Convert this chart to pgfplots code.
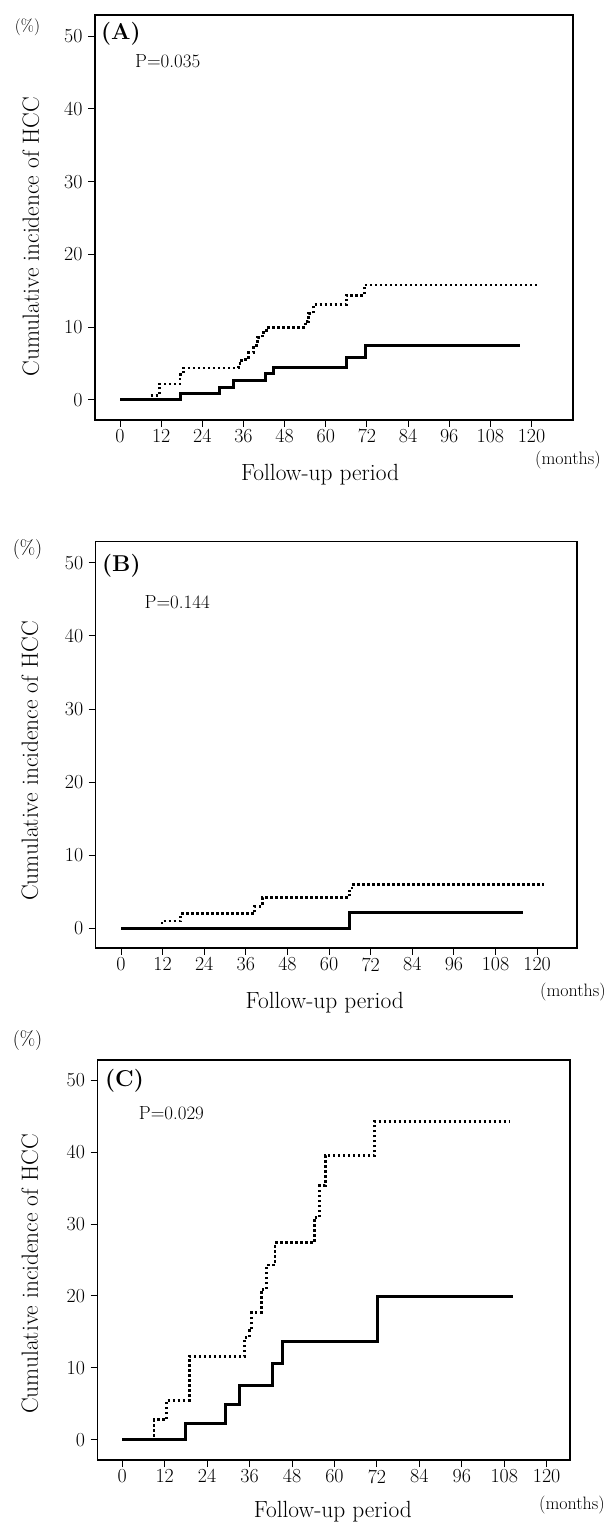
\documentclass[border=0pt]{standalone}
\usepackage{pgfplots}
\pgfplotsset{compat=1.18}
\begin{document}
\begin{tikzpicture}
\useasboundingbox (0,0) rectangle (609bp,1524bp);
\pgfplotsset{
  km/.style={
    scale only axis,
    anchor=south west,
    axis line style={line width=1.2bp},
    xtick={0,12,...,120}, ytick={0,10,...,50},
    tick align=outside, xtick pos=left, ytick pos=left,
    major tick length=7bp,
    tick style={line width=1bp, black},
    /pgf/number format/assume math mode=true,
    ticklabel style={font=\fontsize{20}{22}\selectfont},
    yticklabel style={xshift=-2bp},
    xticklabel style={yshift=1bp},
    clip=false,
  },
  sol/.style={black, line width=3bp, const plot, no marks},
  dot/.style={black, line width=2.8bp, const plot, no marks, dash pattern=on 2.4bp off 2.6bp},
  lx/.style={every axis x label/.style={at={(axis description cs:#1)},anchor=center,font=\fontsize{23.5}{26}\selectfont}},
  ly/.style={every axis y label/.style={at={(axis description cs:#1)},anchor=center,rotate=90,font=\fontsize{23.5}{26}\selectfont}},
}
% ---------------- Panel A
\begin{axis}[km, at={(95bp,1104bp)}, width=478bp, height=405bp,
  xmin=-7.3, xmax=132.1, ymin=-2.75, ymax=52.9,
  xlabel={Follow-up period}, ylabel={Cumulative incidence of HCC},
  lx={0.471,-0.136}, ly={-0.134,0.453}]
\addplot[dot] coordinates {(0,0) (8.8,0.6) (11.5,2.2) (17.5,3.5) (18.5,4.4) (34.5,5.0) (35.5,5.6) (37.5,6.5) (39,7.5) (40.2,8.6) (41.5,9.3) (42.8,10.0) (54,10.8) (55,11.9) (56.4,13.1) (66,14.4) (71.3,15.8) (122,15.8)};
\addplot[sol] coordinates {(0,0) (17.7,0.85) (28.9,1.75) (33,2.65) (42.4,3.6) (44.7,4.45) (66,5.85) (71.7,7.5) (116.5,7.5)};
\end{axis}
\node[font=\fontsize{17}{20}\selectfont] at (27.5bp,1497bp) {(\%)};
\node[anchor=west,font=\fontsize{23}{26}\selectfont\bfseries,inner sep=0pt] at (101bp,1490bp) {(A)};
\node[anchor=west,font=\fontsize{19}{22}\selectfont,inner sep=0pt] at (135bp,1462.5bp) {P=0.035};
\node[anchor=west,font=\fontsize{18}{21}\selectfont,inner sep=0pt] at (535bp,1064bp) {(months)};
% ---------------- Panel B
\begin{axis}[km, at={(95.7bp,576bp)}, width=481.3bp, height=406.3bp,
  xmin=-7.3, xmax=131.5, ymin=-2.7, ymax=52.9,
  xlabel={Follow-up period}, ylabel={Cumulative incidence of HCC},
  lx={0.476,-0.135}, ly={-0.137,0.46}]
\addplot[dot] coordinates {(0,0) (11.8,1.0) (17.2,2.0) (38.6,3.0) (40.8,4.2) (65.8,5.1) (66.6,6.0) (122,6.0)};
\addplot[sol] coordinates {(0,0) (65.8,2.15) (116,2.15)};
\end{axis}
\node[font=\fontsize{20}{23}\selectfont] at (27.5bp,974.5bp) {(\%)};
\node[anchor=west,font=\fontsize{23}{26}\selectfont\bfseries,inner sep=0pt] at (102bp,958bp) {(B)};
\node[anchor=west,font=\fontsize{19}{22}\selectfont,inner sep=0pt] at (144.5bp,922.3bp) {P=0.144};
\node[anchor=west,font=\fontsize{18}{21}\selectfont,inner sep=0pt] at (540bp,532.3bp) {(months)};
% ---------------- Panel C
\begin{axis}[km, at={(97.5bp,64bp)}, width=472.5bp, height=400bp,
  xmin=-7.0, xmax=126.6, ymin=-2.8, ymax=52.8,
  xlabel={Follow-up period}, ylabel={Cumulative incidence of HCC},
  lx={0.498,-0.13}, ly={-0.143,0.465}]
\addplot[dot] coordinates {(0,0) (9.0,2.8) (12.5,5.5) (18.9,11.6) (34.6,14.2) (36.0,15.2) (36.6,17.7) (39.3,20.9) (40.8,24.3) (43.2,27.4) (54.3,30.9) (55.8,35.3) (57.4,39.5) (71.4,44.3) (109.4,44.3)};
\addplot[sol] coordinates {(0,0) (17.9,2.3) (29.1,4.95) (33.2,7.6) (42.6,10.6) (45.2,13.7) (72.1,19.9) (110.4,19.9)};
\end{axis}
\node[font=\fontsize{20}{23}\selectfont] at (27.5bp,483bp) {(\%)};
\node[anchor=west,font=\fontsize{23}{26}\selectfont\bfseries,inner sep=0pt] at (105bp,443bp) {(C)};
\node[anchor=west,font=\fontsize{19}{22}\selectfont,inner sep=0pt] at (138.7bp,410.5bp) {P=0.029};
\node[anchor=west,font=\fontsize{18}{21}\selectfont,inner sep=0pt] at (539bp,19bp) {(months)};
\end{tikzpicture}
\end{document}
